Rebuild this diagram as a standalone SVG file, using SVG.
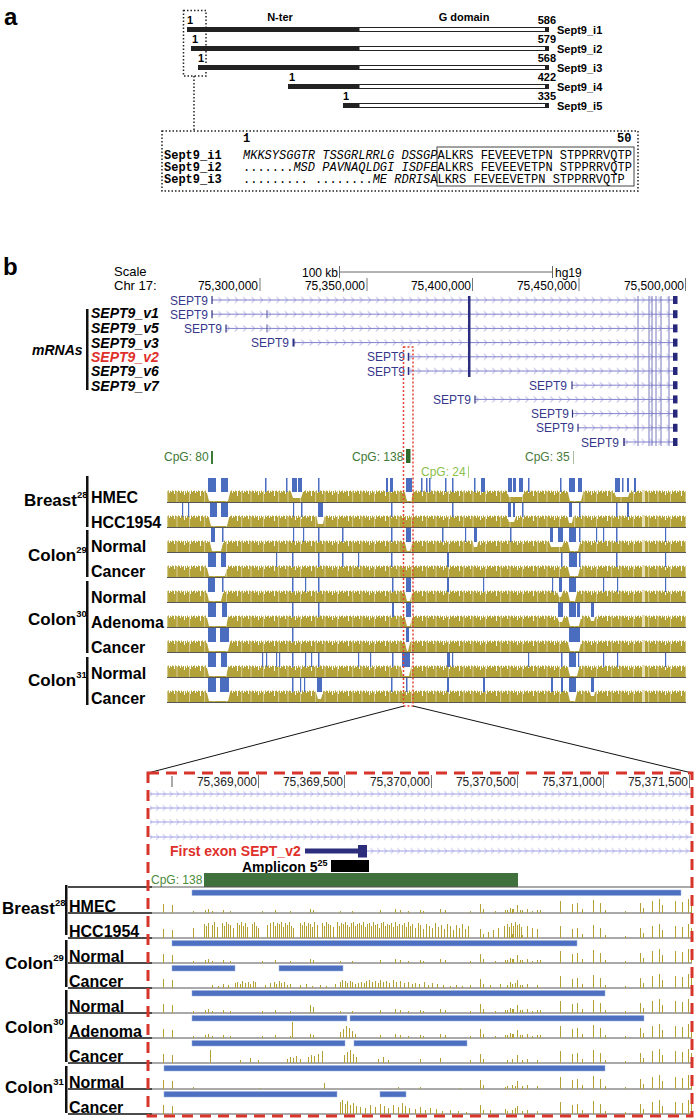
<svg xmlns="http://www.w3.org/2000/svg" xmlns:xlink="http://www.w3.org/1999/xlink" width="697" height="1120" viewBox="0 0 697 1120">
<style>
.t{font-family:"Liberation Sans",Arial,sans-serif}
.b{font-weight:bold}
.bi{font-weight:bold;font-style:italic}
.m{font-family:"Liberation Mono","Courier New",monospace;font-size:12px;white-space:pre}
.blu{fill:#4a6dc0}
.dip{fill:#fff}
.yb{stroke:#b3a133;stroke-width:1;fill:none;shape-rendering:crispEdges}
.gn{fill:#37378a;font-family:"Liberation Sans",Arial,sans-serif;font-size:12px}
.tick{stroke:#777;stroke-width:1}
.lbl{font-family:"Liberation Sans",Arial,sans-serif;font-weight:bold;font-size:16px}
.grp{font-family:"Liberation Sans",Arial,sans-serif;font-weight:bold;font-size:17px}
.grp2{font-family:"Liberation Sans",Arial,sans-serif;font-weight:bold;font-size:17px}
.sup{font-size:9.5px}
.gbar{fill:#111}
.sep{stroke:#555;stroke-width:1}
.sepk{stroke:#111;stroke-width:1.5}
.lb{fill:#4d71c0;stroke:#9db2e0;stroke-width:0.5}
</style>
<defs>
<pattern id="olv" x="0" y="0" width="37" height="25" patternUnits="userSpaceOnUse">
<path fill="#b3a23a" d="M0 24V13H1V15H2V12.5H3V14H4V13H5V16H6V12.5H7V14H8V13H9V12.5H10V15H11V13H12V14H13V12.5H14V13H15V18H16V13H17V12.5H18V14H19V13H20V12.5H21V15H22V13H23V14H24V12.5H25V13H26V16H27V12.5H28V13H29V14H30V12.5H31V13H32V15H33V12.5H34V14H35V13H36V17H37V24Z"/>
<rect x="4.2" y="13" width="0.8" height="11" fill="#e0d8a8"/>
<rect x="19.3" y="13" width="0.8" height="11" fill="#e0d8a8"/>
<rect x="28.6" y="13" width="0.8" height="11" fill="#e0d8a8"/>
</pattern>
<pattern id="chev" x="0" y="-3.5" width="8.3" height="7" patternUnits="userSpaceOnUse">
<path d="M2.5 0.5L5.5 3.5L2.5 6.5" fill="none" stroke="#9a9ad8" stroke-width="0.9"/>
</pattern>
<pattern id="chev2" x="0" y="-3.5" width="6.7" height="7" patternUnits="userSpaceOnUse">
<path d="M2 0.8L4.8 3.5L2 6.2" fill="none" stroke="#a9a9e6" stroke-width="0.9"/>
</pattern>
<g id="band">
<rect x="167" y="11" width="519" height="13" fill="url(#olv)"/>
<rect x="642" y="12" width="3" height="12" fill="#e6dfb5"/>
</g>
<path id="ls" d="M163 0v-9M172 0v-8"/>
<path id="rs" d="M480 0v-9M483 0v-4M507 0v-3M512 0v-4M517 0v-8M522 0v-3M527 0v-4M537 0v-3M560 0v-12M572 0v-9M577 0v-10M582 0v-4M593 0v-13M600 0v-10M605 0v-3M625 0v-2M640 0v-10M643 0v-5M652 0v-12M659 0v-14M662 0v-8M675 0v-12M682 0v-11M688 0v-14M691 0v-10"/>
<path id="sp" d="M193 0v-2M205 0v-3M208 0v-4M212 0v-2M223 0v-3M230 0v-2M262 0v-2M275 0v-3M290 0v-2M310 0v-4M313 0v-3M340 0v-2M352 0v-2M380 0v-3M395 0v-4M400 0v-3M408 0v-2M420 0v-3M423 0v-2M440 0v-4M445 0v-3M470 0v-2M495 0v-2M505 0v-3M510 0v-5M513 0v-4M520 0v-3M532 0v-2M540 0v-3"/>
<path id="sp2" d="M193 0v-2M260 0v-1.5M324 0v-6M398 0v-2M420 0v-2M460 0v-1.5M505 0v-2M515 0v-3"/>
<path id="dn" d="M193 0v-10M204 0v-14M206 0v-12M208 0v-15M212 0v-13M214 0v-16M217 0v-11M222 0v-15M224 0v-12M226 0v-16M228 0v-14M230 0v-13M233 0v-10M237 0v-15M239 0v-13M241 0v-16M243 0v-12M245 0v-15M247 0v-11M252 0v-14M254 0v-16M256 0v-12M258 0v-10M267 0v-13M270 0v-15M273 0v-16M275 0v-12M277 0v-15M279 0v-14M281 0v-16M283 0v-11M285 0v-15M287 0v-13M289 0v-16M291 0v-12M293 0v-10M300 0v-15M302 0v-13M304 0v-16M306 0v-12M308 0v-15M310 0v-14M312 0v-11M314 0v-16M317 0v-13M322 0v-15M324 0v-12M326 0v-16M328 0v-14M330 0v-13M333 0v-11M337 0v-16M339 0v-12M341 0v-15M343 0v-14M345 0v-16M347 0v-13M349 0v-11M351 0v-15M353 0v-16M355 0v-12M357 0v-14M359 0v-15M361 0v-13M363 0v-16M365 0v-11M367 0v-14M369 0v-15M371 0v-12M373 0v-16M375 0v-13M377 0v-14M379 0v-10M381 0v-15M383 0v-16M385 0v-12M387 0v-14M389 0v-13M391 0v-15M393 0v-11M395 0v-16M397 0v-12M399 0v-14M402 0v-13M404 0v-15M406 0v-11M408 0v-16M410 0v-12M412 0v-14M415 0v-10M418 0v-15M420 0v-13M423 0v-9M426 0v-14M429 0v-12M432 0v-10M435 0v-15M438 0v-11M441 0v-13M444 0v-9M447 0v-14M450 0v-12M453 0v-8M456 0v-13M459 0v-10M462 0v-14M465 0v-9M468 0v-12M488 0v-6M493 0v-8M498 0v-10M504 0v-12M507 0v-14M509 0v-11M511 0v-15M513 0v-12M515 0v-16M517 0v-13M519 0v-14M521 0v-11M527 0v-12M532 0v-10M537 0v-9"/>
<path id="md" d="M212 0v-3M218 0v-2M223 0v-4M228 0v-3M235 0v-5M237 0v-6M240 0v-4M242 0v-7M245 0v-5M248 0v-6M250 0v-4M253 0v-7M255 0v-6M265 0v-3M270 0v-5M274 0v-6M276 0v-4M279 0v-7M281 0v-5M284 0v-6M287 0v-3M290 0v-4M300 0v-3M306 0v-4M312 0v-2M320 0v-3M326 0v-2M335 0v-4M340 0v-6M342 0v-8M345 0v-7M347 0v-5M350 0v-7M352 0v-6M355 0v-4M358 0v-5M361 0v-6M364 0v-5M366 0v-7M369 0v-8M372 0v-6M375 0v-7M378 0v-5M380 0v-8M383 0v-6M386 0v-7M389 0v-5M393 0v-8M396 0v-6M400 0v-7M404 0v-5M408 0v-6M412 0v-4M415 0v-5M419 0v-4M424 0v-6M428 0v-3M432 0v-5M437 0v-4M443 0v-3M450 0v-2M456 0v-3M462 0v-2M470 0v-3M490 0v-3M500 0v-4M510 0v-6M515 0v-5M520 0v-3"/>
</defs>
<rect width="697" height="1120" fill="#fff"/>

<!-- Panel a -->
<g id="panel-a-label"><text class="t b" x="4" y="25" font-size="24">a</text></g>
<g id="isoforms" class="t b" font-size="11">
<text x="280" y="21" text-anchor="middle">N-ter</text>
<text x="464" y="21" text-anchor="middle">G domain</text>
<g id="i1"><rect x="187" y="27" width="172" height="5" fill="#222"/><rect x="359" y="27.5" width="187" height="4" fill="#fff" stroke="#222"/><rect x="545" y="27" width="4" height="5" fill="#222"/><text x="187" y="24">1</text><text x="556" y="24" text-anchor="end">586</text><text x="557" y="34">Sept9_i1</text></g>
<g id="i2"><rect x="191" y="46" width="168" height="5" fill="#222"/><rect x="359" y="46.5" width="187" height="4" fill="#fff" stroke="#222"/><rect x="545" y="46" width="4" height="5" fill="#222"/><text x="192" y="43">1</text><text x="556" y="43" text-anchor="end">579</text><text x="557" y="53">Sept9_i2</text></g>
<g id="i3"><rect x="198" y="65" width="161" height="5" fill="#222"/><rect x="359" y="65.5" width="187" height="4" fill="#fff" stroke="#222"/><rect x="545" y="65" width="4" height="5" fill="#222"/><text x="198" y="62">1</text><text x="556" y="62" text-anchor="end">568</text><text x="557" y="72">Sept9_i3</text></g>
<g id="i4"><rect x="288" y="84" width="71" height="5" fill="#222"/><rect x="359" y="84.5" width="187" height="4" fill="#fff" stroke="#222"/><rect x="545" y="84" width="4" height="5" fill="#222"/><text x="289" y="81">1</text><text x="556" y="81" text-anchor="end">422</text><text x="557" y="91">Sept9_i4</text></g>
<g id="i5"><rect x="343" y="103" width="16" height="5" fill="#222"/><rect x="359" y="103.5" width="187" height="4" fill="#fff" stroke="#222"/><rect x="545" y="103" width="4" height="5" fill="#222"/><text x="343" y="100">1</text><text x="556" y="100" text-anchor="end">335</text><text x="557" y="110">Sept9_i5</text></g>
</g>
<g id="seq-zoom-connector" fill="none" stroke="#222" stroke-width="1.5" stroke-dasharray="1.5 2">
<rect x="183.5" y="10.5" width="22.5" height="65.5"/>
<line x1="194" y1="76" x2="194" y2="131"/>
</g>
<g id="sequence-box">
<rect x="162" y="131" width="476" height="60" fill="none" stroke="#222" stroke-width="1.5" stroke-dasharray="1.5 2"/>
<rect x="437" y="147" width="197" height="39" fill="none" stroke="#444" stroke-width="1"/>
<text class="m" font-weight="bold" x="243" y="142">1</text>
<text class="m" font-weight="bold" x="617" y="142">50</text>
<text class="m" y="159"><tspan x="164" font-weight="bold">Sept9_i1</tspan><tspan x="243" font-style="italic">MKKSYSGGTR TSSGRLRRLG DSSGP</tspan><tspan>ALKRS FEVEEVETPN STPPRRVQTP</tspan></text>
<text class="m" y="171"><tspan x="164" font-weight="bold">Sept9_i2</tspan><tspan x="243">.......</tspan><tspan font-style="italic">MSD PAVNAQLDGI ISDFE</tspan><tspan>ALKRS FEVEEVETPN STPPRRVQTP</tspan></text>
<text class="m" y="183"><tspan x="164" font-weight="bold">Sept9_i3</tspan><tspan x="243">......... ........</tspan><tspan font-style="italic">ME RDRIS</tspan><tspan>ALKRS FEVEEVETPN STPPRRVQTP</tspan></text>
</g>

<!-- Panel b -->
<g id="panel-b-label"><text class="t b" x="3" y="275" font-size="24">b</text></g>
<g id="ruler" class="t" font-size="12">
<text x="114" y="276" font-size="13">Scale</text>
<text x="114" y="290" font-size="13">Chr 17:</text>
<text x="338" y="277" text-anchor="end">100 kb</text>
<line x1="339.5" y1="272" x2="552.5" y2="272" stroke="#666"/>
<line x1="339.5" y1="266" x2="339.5" y2="278" stroke="#666"/>
<line x1="552.5" y1="266" x2="552.5" y2="278" stroke="#666"/>
<text x="555" y="277">hg19</text>
<text x="258" y="290" text-anchor="end">75,300,000</text><line class="tick" x1="260" y1="278" x2="260" y2="291"/>
<text x="365" y="290" text-anchor="end">75,350,000</text><line class="tick" x1="367" y1="278" x2="367" y2="291"/>
<text x="471" y="290" text-anchor="end">75,400,000</text><line class="tick" x1="472.5" y1="278" x2="472.5" y2="291"/>
<text x="577" y="290" text-anchor="end">75,450,000</text><line class="tick" x1="579" y1="278" x2="579" y2="291"/>
<text x="684" y="290" text-anchor="end">75,500,000</text><line class="tick" x1="685.5" y1="278" x2="685.5" y2="291"/>
</g>

<g id="mrna-labels" class="t bi" font-size="14">
<text x="32" y="355">mRNAs</text>
<rect x="86" y="309" width="2.5" height="81" fill="#111"/>
<text x="91" y="318">SEPT9_v1</text>
<text x="91" y="333">SEPT9_v5</text>
<text x="91" y="348">SEPT9_v3</text>
<text x="91" y="362" fill="#e0302a">SEPT9_v2</text>
<text x="91" y="376">SEPT9_v6</text>
<text x="91" y="391">SEPT9_v7</text>
</g>

<g id="refseq-tracks">
<g transform="translate(0,300)"><text class="gn" x="208" y="4.5" text-anchor="end">SEPT9</text><rect x="212" y="-3.5" width="461" height="7" fill="url(#chev)"/><line x1="212" y1="0" x2="673" y2="0" stroke="#8080cc"/><line x1="212" y1="-4" x2="212" y2="4" stroke="#303080" stroke-width="1.2"/></g>
<g transform="translate(0,314.2)"><text class="gn" x="208" y="4.5" text-anchor="end">SEPT9</text><rect x="212" y="-3.5" width="461" height="7" fill="url(#chev)"/><line x1="212" y1="0" x2="673" y2="0" stroke="#8080cc"/><line x1="212" y1="-4" x2="212" y2="4" stroke="#303080" stroke-width="1.2"/><line x1="267" y1="-4" x2="267" y2="4" stroke="#5050a0"/></g>
<g transform="translate(0,328.4)"><text class="gn" x="222" y="4.5" text-anchor="end">SEPT9</text><rect x="226" y="-3.5" width="447" height="7" fill="url(#chev)"/><line x1="226" y1="0" x2="673" y2="0" stroke="#8080cc"/><line x1="226" y1="-4" x2="226" y2="4" stroke="#303080" stroke-width="1.2"/><line x1="267" y1="-4" x2="267" y2="4" stroke="#5050a0"/></g>
<g transform="translate(0,342.6)"><text class="gn" x="289" y="4.5" text-anchor="end">SEPT9</text><rect x="293" y="-3.5" width="380" height="7" fill="url(#chev)"/><line x1="293" y1="0" x2="673" y2="0" stroke="#8080cc"/><line x1="293.5" y1="-4" x2="293.5" y2="4" stroke="#303080" stroke-width="2"/></g>
<g transform="translate(0,356.8)"><text class="gn" x="405" y="4.5" text-anchor="end">SEPT9</text><rect x="408" y="-3.5" width="265" height="7" fill="url(#chev)"/><line x1="408" y1="0" x2="673" y2="0" stroke="#8080cc"/><line x1="408.5" y1="-4" x2="408.5" y2="4" stroke="#303080" stroke-width="1.5"/></g>
<g transform="translate(0,371)"><text class="gn" x="405" y="4.5" text-anchor="end">SEPT9</text><rect x="408" y="-3.5" width="265" height="7" fill="url(#chev)"/><line x1="408" y1="0" x2="673" y2="0" stroke="#8080cc"/><line x1="408.5" y1="-4" x2="408.5" y2="4" stroke="#303080" stroke-width="1.5"/></g>
<g transform="translate(0,385.2)"><text class="gn" x="567" y="4.5" text-anchor="end">SEPT9</text><rect x="572" y="-3.5" width="101" height="7" fill="url(#chev)"/><line x1="572" y1="0" x2="673" y2="0" stroke="#8080cc"/><line x1="572" y1="-4" x2="572" y2="4" stroke="#303080" stroke-width="1.2"/></g>
<g transform="translate(0,399.4)"><text class="gn" x="471" y="4.5" text-anchor="end">SEPT9</text><rect x="475" y="-3.5" width="198" height="7" fill="url(#chev)"/><line x1="475" y1="0" x2="673" y2="0" stroke="#8080cc"/><line x1="475" y1="-4" x2="475" y2="4" stroke="#303080" stroke-width="1.2"/></g>
<g transform="translate(0,413.6)"><text class="gn" x="569" y="4.5" text-anchor="end">SEPT9</text><rect x="572" y="-3.5" width="101" height="7" fill="url(#chev)"/><line x1="572" y1="0" x2="673" y2="0" stroke="#8080cc"/><line x1="572.5" y1="-4" x2="572.5" y2="4" stroke="#303080" stroke-width="1.2"/></g>
<g transform="translate(0,427.8)"><text class="gn" x="574" y="4.5" text-anchor="end">SEPT9</text><rect x="578" y="-3.5" width="95" height="7" fill="url(#chev)"/><line x1="578" y1="0" x2="673" y2="0" stroke="#8080cc"/><line x1="578" y1="-4" x2="578" y2="4" stroke="#303080" stroke-width="1.2"/></g>
<g transform="translate(0,442)"><text class="gn" x="619" y="4.5" text-anchor="end">SEPT9</text><rect x="624" y="-3.5" width="49" height="7" fill="url(#chev)"/><line x1="624" y1="0" x2="673" y2="0" stroke="#8080cc"/><line x1="624" y1="-4" x2="624" y2="4" stroke="#303080" stroke-width="1.5"/></g>
<g id="shared-exons">
<rect x="468" y="296" width="2.5" height="81" fill="#2d2d7d"/>
<g stroke="#7a7ac0" stroke-width="1"><line x1="638" y1="296" x2="638" y2="446"/><line x1="649" y1="296" x2="649" y2="446"/><line x1="652" y1="296" x2="652" y2="446"/><line x1="656" y1="296" x2="656" y2="446"/><line x1="661" y1="296" x2="661" y2="446"/><line x1="669" y1="296" x2="669" y2="446"/></g>
<g fill="#26267a"><rect x="673" y="296" width="4.5" height="8"/><rect x="673" y="310.2" width="4.5" height="8"/><rect x="673" y="324.4" width="4.5" height="8"/><rect x="673" y="338.6" width="4.5" height="8"/><rect x="673" y="352.8" width="4.5" height="8"/><rect x="673" y="367" width="4.5" height="8"/><rect x="673" y="381.2" width="4.5" height="8"/><rect x="673" y="395.4" width="4.5" height="8"/><rect x="673" y="409.6" width="4.5" height="8"/><rect x="673" y="423.8" width="4.5" height="8"/><rect x="673" y="438" width="4.5" height="8"/></g>
</g>
</g>

<g id="cpg-islands" class="t" font-size="12">
<text x="164" y="461" fill="#3d7a35">CpG: 80</text><rect x="211" y="451" width="2" height="13" fill="#3d7a35"/>
<text x="352" y="461" fill="#3d7a35">CpG: 138</text><rect x="406" y="449" width="4.5" height="14" fill="#2f6a2a"/>
<text x="421" y="476" fill="#8cc04a">CpG: 24</text><rect x="468" y="466" width="1" height="12" fill="#a9d47a"/>
<text x="525" y="461" fill="#4a7a40">CpG: 35</text><rect x="573" y="451" width="1" height="13" fill="#a8bca0"/>
</g>

<g id="methylation-tracks">
<g id="u-hmec" transform="translate(0,478)"><use href="#band"/><path class="dip" d="M206 11L209 23L228 23L231 11ZM290 11L293 20L301 20L304 11ZM404 11L407 23L411 23L414 11ZM506 11L509 19L522 19L525 11ZM567 11L570 23L581 23L584 11ZM613 11L616 19L628 19L631 11Z"/><path class="blu" d="M208 0h8v14h-8zM221 0h7v14h-7zM265 0h1.5v14h-1.5zM286 0h1.5v14h-1.5zM292 0h5v14h-5zM298 0h4v14h-4zM318 0h1.5v14h-1.5zM386 0h2v14h-2zM390 0h3v14h-3zM406 0h6v14h-6zM421 0h1.5v14h-1.5zM426 0h1.5v14h-1.5zM429 0h1.5v14h-1.5zM445 0h1.5v14h-1.5zM452 0h1.5v14h-1.5zM474 0h1.5v14h-1.5zM481 0h4v14h-4zM508 0h4v14h-4zM513 0h3v14h-3zM519 0h4v14h-4zM528 0h1.5v14h-1.5zM560 0h1.5v14h-1.5zM569 0h6v14h-6zM578 0h4v14h-4zM615 0h5v14h-5zM622 0h1.5v14h-1.5zM627 0h2v14h-2zM634 0h2v14h-2z"/><line x1="167" y1="24.5" x2="686" y2="24.5" stroke="#555" stroke-width="1.2"/></g>
<g id="u-hcc1954" transform="translate(0,503)"><use href="#band"/><path class="dip" d="M208 11L211 23L227 23L230 11ZM316 11L318 21L323 21L325 11ZM506 11L509 19L514 19L517 11ZM567 11L569 20L572 20L574 11Z"/><path class="blu" d="M182 0h1.2v14h-1.2zM188 0h1.2v14h-1.2zM210 0h7v14h-7zM221 0h7v14h-7zM293 0h1.2v14h-1.2zM301 0h1.5v14h-1.5zM318 0h5v14h-5zM391 0h1.5v14h-1.5zM452 0h1.5v14h-1.5zM508 0h3v14h-3zM513 0h2v14h-2zM522 0h1.5v14h-1.5zM569 0h3v14h-3zM579 0h1.5v14h-1.5zM616 0h1.5v14h-1.5zM627 0h2v14h-2z"/><line x1="167" y1="24.5" x2="686" y2="24.5" stroke="#555" stroke-width="1.2"/></g>
<g id="u-c29n" transform="translate(0,528)"><use href="#band"/><path class="dip" d="M209 11L212 23L221 23L224 11ZM404 11L407 23L410 23L413 11ZM472 11L474 19L477 19L479 11ZM548 11L551 19L562 19L565 11ZM567 11L570 23L578 23L581 11Z"/><path class="blu" d="M211 0h4v14h-4zM222 0h1.5v14h-1.5zM293 0h1.2v14h-1.2zM303 0h1.2v14h-1.2zM318 0h1.5v14h-1.5zM342 0h1.5v14h-1.5zM391 0h1.5v14h-1.5zM406 0h5v14h-5zM442 0h1.5v14h-1.5zM465 0h1.2v14h-1.2zM474 0h3v14h-3zM510 0h1.5v14h-1.5zM550 0h3v14h-3zM558 0h5v14h-5zM569 0h7v14h-7zM579 0h1.5v14h-1.5zM596 0h1.2v14h-1.2zM603 0h1.2v14h-1.2zM616 0h1.5v14h-1.5zM665 0h1.2v14h-1.2z"/><line x1="167" y1="24.5" x2="686" y2="24.5" stroke="#555" stroke-width="1.2"/></g>
<g id="u-c29c" transform="translate(0,553)"><use href="#band"/><path class="dip" d="M206 11L209 23L225 23L228 11ZM567 11L570 23L578 23L581 11Z"/><path class="blu" d="M208 0h8v14h-8zM221 0h5v14h-5zM276 0h1.2v14h-1.2zM292 0h1.5v14h-1.5zM318 0h1.5v14h-1.5zM342 0h1.5v14h-1.5zM358 0h1.2v14h-1.2zM391 0h1.5v14h-1.5zM447 0h2v14h-2zM561 0h1.5v14h-1.5zM569 0h8v14h-8zM579 0h1.5v14h-1.5zM616 0h1.5v14h-1.5zM665 0h1.2v14h-1.2z"/><line x1="167" y1="24.5" x2="686" y2="24.5" stroke="#555" stroke-width="1.2"/></g>
<g id="u-c30n" transform="translate(0,578)"><use href="#band"/><path class="dip" d="M206 11L209 23L221 23L224 11ZM404 11L407 23L410 23L413 11ZM556 11L559 19L561 19L564 11ZM567 11L570 23L575 23L578 11Z"/><path class="blu" d="M208 0h7v14h-7zM222 0h1.5v14h-1.5zM292 0h1.5v14h-1.5zM305 0h1.2v14h-1.2zM318 0h1.5v14h-1.5zM392 0h1.5v14h-1.5zM406 0h5v14h-5zM447 0h2v14h-2zM483 0h1.2v14h-1.2zM552 0h1.2v14h-1.2zM559 0h3v14h-3zM569 0h7v14h-7zM603 0h1.2v14h-1.2zM617 0h1.2v14h-1.2zM665 0h1.2v14h-1.2z"/><line x1="167" y1="24.5" x2="686" y2="24.5" stroke="#555" stroke-width="1.2"/></g>
<g id="u-c30a" transform="translate(0,603)"><use href="#band"/><path class="dip" d="M206 11L209 23L226 23L229 11ZM404 11L407 23L410 23L413 11ZM556 11L559 19L562 19L565 11ZM567 11L570 23L579 23L582 11ZM589 11L591 18L594 18L596 11Z"/><path class="blu" d="M208 0h8v14h-8zM222 0h5v14h-5zM292 0h1.5v14h-1.5zM318 0h1.5v14h-1.5zM392 0h2v14h-2zM406 0h5v14h-5zM558 0h5v14h-5zM569 0h7v14h-7zM577 0h3v14h-3zM591 0h3v14h-3z"/><line x1="167" y1="24.5" x2="686" y2="24.5" stroke="#555" stroke-width="1.2"/></g>
<g id="u-c30c" transform="translate(0,628)"><use href="#band"/><path class="dip" d="M206 11L209 23L228 23L231 11ZM404 11L407 23L408 23L411 11ZM567 11L570 23L579 23L582 11Z"/><path class="blu" d="M208 0h8v14h-8zM220 0h9v14h-9zM292 0h1.5v14h-1.5zM406 0h3v14h-3zM569 0h11v14h-11z"/><line x1="167" y1="24.5" x2="686" y2="24.5" stroke="#555" stroke-width="1.2"/></g>
<g id="u-c31n" transform="translate(0,653)"><use href="#band"/><path class="dip" d="M206 11L209 23L226 23L229 11ZM400 11L403 23L409 23L412 11ZM567 11L570 23L577 23L580 11Z"/><path class="blu" d="M208 0h8v14h-8zM221 0h6v14h-6zM262 0h1.2v14h-1.2zM266 0h1.2v14h-1.2zM276 0h1.2v14h-1.2zM279 0h1.2v14h-1.2zM292 0h1.5v14h-1.5zM305 0h1.2v14h-1.2zM311 0h1.2v14h-1.2zM318 0h1.5v14h-1.5zM358 0h1.2v14h-1.2zM370 0h1.2v14h-1.2zM392 0h1.5v14h-1.5zM402 0h8v14h-8zM447 0h3v14h-3zM452 0h1.2v14h-1.2zM528 0h1.2v14h-1.2zM561 0h1.5v14h-1.5zM569 0h7v14h-7zM578 0h1.2v14h-1.2zM603 0h1.2v14h-1.2zM617 0h1.2v14h-1.2zM665 0h1.2v14h-1.2z"/><line x1="167" y1="24.5" x2="686" y2="24.5" stroke="#555" stroke-width="1.2"/></g>
<g id="u-c31c" transform="translate(0,678)"><use href="#band"/><path class="dip" d="M206 11L209 23L228 23L231 11ZM315 11L318 21L321 21L324 11ZM567 11L570 23L575 23L578 11ZM589 11L591 18L594 18L596 11Z"/><path class="blu" d="M208 0h8v14h-8zM220 0h9v14h-9zM292 0h1.5v14h-1.5zM300 0h1.2v14h-1.2zM304 0h1.2v14h-1.2zM317 0h5v14h-5zM391 0h1.5v14h-1.5zM406 0h1.5v14h-1.5zM447 0h2v14h-2zM483 0h2v14h-2zM551 0h2v14h-2zM561 0h2v14h-2zM569 0h7v14h-7zM591 0h3v14h-3z"/><line x1="167" y1="24.5" x2="686" y2="24.5" stroke="#555" stroke-width="1.2"/></g>
</g>

<g id="upper-labels">
<rect class="gbar" x="86" y="476" width="2.5" height="51"/>
<rect class="gbar" x="86" y="530" width="2.5" height="47"/>
<rect class="gbar" x="86" y="581" width="2.5" height="72"/>
<rect class="gbar" x="86" y="657" width="2.5" height="48"/>
<text class="grp" x="24" y="506">Breast<tspan class="sup" dy="-8">28</tspan></text>
<text class="grp" x="28" y="561">Colon<tspan class="sup" dy="-8">29</tspan></text>
<text class="grp" x="28" y="625">Colon<tspan class="sup" dy="-8">30</tspan></text>
<text class="grp" x="28" y="686">Colon<tspan class="sup" dy="-8">31</tspan></text>
<text class="lbl" x="91" y="503">HMEC</text>
<text class="lbl" x="91" y="528">HCC1954</text>
<text class="lbl" x="91" y="552">Normal</text>
<text class="lbl" x="91" y="577">Cancer</text>
<text class="lbl" x="91" y="603">Normal</text>
<text class="lbl" x="91" y="628">Adenoma</text>
<text class="lbl" x="91" y="653">Cancer</text>
<text class="lbl" x="91" y="679">Normal</text>
<text class="lbl" x="91" y="704">Cancer</text>
</g>

<g id="connectors">
<rect x="403.5" y="347" width="9.5" height="359" fill="none" stroke="#e34234" stroke-width="1.5" stroke-dasharray="2 2"/>
<line x1="404" y1="706" x2="148" y2="773" stroke="#111" stroke-width="1"/>
<line x1="413" y1="706" x2="692" y2="773" stroke="#111" stroke-width="1"/>
</g>

<!-- Zoomed panel -->
<g id="zoom-ruler" class="t" font-size="12" fill="#222">
<line x1="172" y1="776" x2="172" y2="787" stroke="#555"/>
<text x="257" y="786" text-anchor="end">75,369,000</text><line class="tick" x1="258.5" y1="775" x2="258.5" y2="788"/>
<text x="343" y="786" text-anchor="end">75,369,500</text><line class="tick" x1="344.5" y1="775" x2="344.5" y2="788"/>
<text x="430" y="786" text-anchor="end">75,370,000</text><line class="tick" x1="431.5" y1="775" x2="431.5" y2="788"/>
<text x="516" y="786" text-anchor="end">75,370,500</text><line class="tick" x1="517.5" y1="775" x2="517.5" y2="788"/>
<text x="602" y="786" text-anchor="end">75,371,000</text><line class="tick" x1="603.5" y1="775" x2="603.5" y2="788"/>
<text x="688" y="786" text-anchor="end">75,371,500</text><line class="tick" x1="689.5" y1="775" x2="689.5" y2="788"/>
</g>
<g id="zoom-transcripts">
<g transform="translate(0,794)"><rect x="150" y="-3.5" width="542" height="7" fill="url(#chev2)"/><line x1="150" y1="0" x2="692" y2="0" stroke="#a0a0e0"/></g>
<g transform="translate(0,808)"><rect x="150" y="-3.5" width="542" height="7" fill="url(#chev2)"/><line x1="150" y1="0" x2="692" y2="0" stroke="#a0a0e0"/></g>
<g transform="translate(0,822)"><rect x="150" y="-3.5" width="542" height="7" fill="url(#chev2)"/><line x1="150" y1="0" x2="692" y2="0" stroke="#a0a0e0"/></g>
<g transform="translate(0,837)"><rect x="150" y="-3.5" width="542" height="7" fill="url(#chev2)"/><line x1="150" y1="0" x2="692" y2="0" stroke="#a0a0e0"/></g>
<g transform="translate(0,851)"><rect x="367" y="-3.5" width="325" height="7" fill="url(#chev2)"/><line x1="367" y1="0" x2="692" y2="0" stroke="#a0a0e0"/></g>
</g>
<g id="first-exon">
<text class="t b" x="170" y="856" font-size="14" fill="#e0302a">First exon SEPT_v2</text>
<rect x="305" y="848.5" width="53" height="5" fill="#2d2d7d"/>
<rect x="358" y="845" width="9" height="12.5" fill="#2d2d7d"/>
</g>
<g id="amplicon">
<text class="t b" x="242" y="872" font-size="14">Amplicon 5<tspan font-size="9" dy="-6">25</tspan></text>
<rect x="331" y="860" width="38" height="12" fill="#000"/>
</g>
<g id="cpg138">
<text class="t" x="151" y="884" font-size="12" fill="#4b8b3b">CpG: 138</text>
<rect x="204" y="873" width="314" height="14" fill="#40703c"/>
</g>

<g id="zoom-tracks">
<g id="sep-lines">
<g class="sepk"><line x1="68" y1="887" x2="152" y2="887"/><line x1="68" y1="913" x2="152" y2="913"/><line x1="68" y1="938" x2="152" y2="938"/><line x1="68" y1="963" x2="152" y2="963"/><line x1="68" y1="988" x2="152" y2="988"/><line x1="68" y1="1013" x2="152" y2="1013"/><line x1="68" y1="1038" x2="152" y2="1038"/><line x1="68" y1="1063" x2="152" y2="1063"/><line x1="68" y1="1089" x2="152" y2="1089"/><line x1="68" y1="1114" x2="152" y2="1114"/></g>
<g class="sep"><line x1="152" y1="887" x2="692" y2="887"/><line x1="152" y1="913" x2="692" y2="913"/><line x1="152" y1="938" x2="692" y2="938"/><line x1="152" y1="963" x2="692" y2="963"/><line x1="152" y1="988" x2="692" y2="988"/><line x1="152" y1="1013" x2="692" y2="1013"/><line x1="152" y1="1038" x2="692" y2="1038"/><line x1="152" y1="1063" x2="692" y2="1063"/><line x1="152" y1="1089" x2="692" y2="1089"/><line x1="152" y1="1114" x2="692" y2="1114"/></g>
</g>
<g id="z-blue">
<rect class="lb" x="192" y="890" width="489" height="5.5"/>
<rect class="lb" x="172" y="940.5" width="405" height="5.5"/>
<rect class="lb" x="172" y="965.5" width="63" height="5.5"/>
<rect class="lb" x="279" y="965.5" width="64" height="5.5"/>
<rect class="lb" x="192" y="990.5" width="413" height="5.5"/>
<rect class="lb" x="192" y="1015.5" width="155" height="5.5"/>
<rect class="lb" x="350" y="1015.5" width="294" height="5.5"/>
<rect class="lb" x="192" y="1040.5" width="153" height="5.5"/>
<rect class="lb" x="354" y="1040.5" width="113" height="5.5"/>
<rect class="lb" x="164" y="1065.5" width="441" height="5.5"/>
<rect class="lb" x="164" y="1091.5" width="173" height="5.5"/>
<rect class="lb" x="380" y="1091.5" width="26" height="5.5"/>
</g>
<g id="z-meth" class="yb">
<use href="#ls" y="913"/><use href="#sp" y="913"/><use href="#rs" y="913"/>
<use href="#ls" y="938"/><use href="#dn" y="938"/><use href="#rs" y="938"/>
<use href="#ls" y="963"/><use href="#sp" y="963"/><use href="#rs" y="963"/>
<use href="#ls" y="988"/><use href="#md" y="988"/><use href="#rs" y="988"/>
<use href="#ls" y="1013"/><use href="#sp" y="1013"/><use href="#rs" y="1013"/><path d="M310 1013v-8M313 1013v-6"/>
<use href="#ls" y="1038"/><use href="#sp" y="1038"/><use href="#rs" y="1038"/><path d="M292 1038v-16M340 1038v-6M343 1038v-9M346 1038v-12M349 1038v-10M352 1038v-7M355 1038v-4"/>
<use href="#ls" y="1063"/><use href="#rs" y="1063"/><path d="M210 1063v-13M240 1063v-3M250 1063v-5M258 1063v-3M287 1063v-4M290 1063v-6M293 1063v-5M296 1063v-7M300 1063v-4M308 1063v-6M311 1063v-8M314 1063v-7M318 1063v-9M322 1063v-12M344 1063v-8M347 1063v-11M350 1063v-13M353 1063v-9M356 1063v-6M378 1063v-4M383 1063v-6M388 1063v-3M420 1063v-4M440 1063v-5M470 1063v-3"/>
<use href="#ls" y="1089"/><use href="#sp2" y="1089"/><use href="#rs" y="1089"/>
<use href="#ls" y="1114"/><use href="#rs" y="1114"/><path d="M340 1114v-12M342 1114v-14M345 1114v-10M347 1114v-13M350 1114v-9M353 1114v-11M356 1114v-8M360 1114v-7M365 1114v-6M370 1114v-9M375 1114v-7M380 1114v-10M384 1114v-8M388 1114v-6M393 1114v-9M398 1114v-7M402 1114v-11M405 1114v-8M409 1114v-6M415 1114v-5M420 1114v-7M425 1114v-4M430 1114v-6M436 1114v-5M442 1114v-3M450 1114v-4M458 1114v-3M466 1114v-2M490 1114v-4M505 1114v-5M515 1114v-6"/>
</g>
</g>

<g id="zoom-labels">
<rect class="gbar" x="65" y="885" width="2.5" height="50"/>
<rect class="gbar" x="65" y="940" width="2.5" height="47"/>
<rect class="gbar" x="65" y="990" width="2.5" height="72"/>
<rect class="gbar" x="65" y="1066" width="2.5" height="47"/>
<text class="grp2" x="2" y="914">Breast<tspan class="sup" dy="-8">28</tspan></text>
<text class="grp2" x="5" y="969">Colon<tspan class="sup" dy="-8">29</tspan></text>
<text class="grp2" x="5" y="1033">Colon<tspan class="sup" dy="-8">30</tspan></text>
<text class="grp2" x="5" y="1093">Colon<tspan class="sup" dy="-8">31</tspan></text>
<text class="lbl" x="69" y="912">HMEC</text>
<text class="lbl" x="69" y="936.5">HCC1954</text>
<text class="lbl" x="69" y="961.5">Normal</text>
<text class="lbl" x="69" y="986.5">Cancer</text>
<text class="lbl" x="69" y="1011.5">Normal</text>
<text class="lbl" x="69" y="1036.5">Adenoma</text>
<text class="lbl" x="69" y="1061.5">Cancer</text>
<text class="lbl" x="69" y="1087.5">Normal</text>
<text class="lbl" x="69" y="1112.5">Cancer</text>
</g>

<g id="zoom-frame">
<rect x="148" y="773" width="544" height="343" fill="none" stroke="#d8352a" stroke-width="3" stroke-dasharray="11 7"/>
</g>
</svg>
